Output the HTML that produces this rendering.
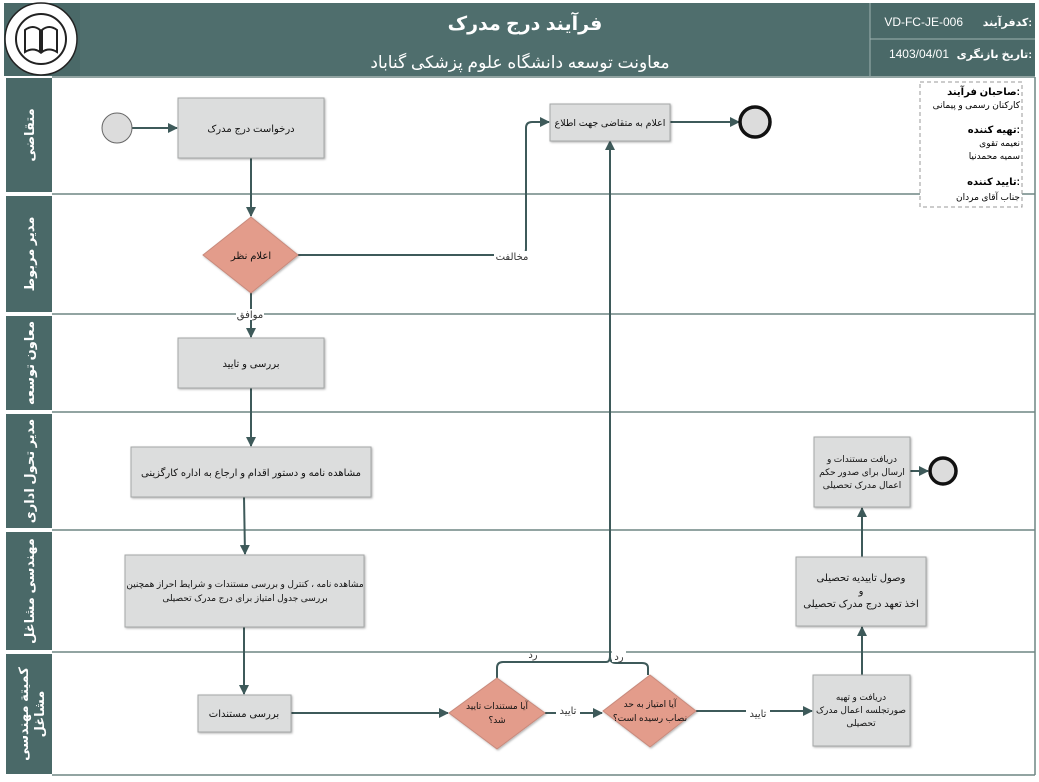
<!DOCTYPE html>
<html><head><meta charset="utf-8"><style>
html,body{margin:0;padding:0;background:#fff;width:1039px;height:782px;overflow:hidden}
svg text{font-family:"Liberation Sans","DejaVu Sans",sans-serif}
</style></head><body>
<svg width="1039" height="782" viewBox="0 0 1039 782" xmlns="http://www.w3.org/2000/svg">
<defs>
<marker id="ar" markerWidth="10" markerHeight="10" refX="9" refY="5" orient="auto" markerUnits="userSpaceOnUse"><path d="M0,0 L10,5 L0,10 Z" fill="#3e5a5a"/></marker>
<filter id="sh"><feDropShadow dx="1" dy="1" stdDeviation="1" flood-opacity="0.3"/></filter>
</defs>
<rect width="1039" height="782" fill="#fff"/>
<rect x="4" y="3" width="1031" height="73" fill="#4a6968"/>
<rect x="80" y="3" width="790" height="73" fill="#4f6e6d"/>
<line x1="870" y1="3" x2="870" y2="76" stroke="#9fb2b1" stroke-width="1"/>
<line x1="870" y1="39" x2="1035" y2="39" stroke="#9fb2b1" stroke-width="1"/>
<circle cx="41" cy="39" r="36" fill="#fff" stroke="#222" stroke-width="1.5"/>
<circle cx="41" cy="39" r="25" fill="#fff" stroke="#222" stroke-width="2"/>
<path d="M25,30 Q33,24 40,30 L40,52 Q33,47 25,52 Z M57,30 Q49,24 42,30 L42,52 Q49,47 57,52 Z" fill="none" stroke="#222" stroke-width="2"/>
<text x="525" y="30" text-anchor="middle" font-size="19" font-weight="bold" fill="#fff">فرآیند درج مدرک</text>
<text x="520" y="68" text-anchor="middle" font-size="17" fill="#fff">معاونت توسعه دانشگاه علوم پزشکی گناباد</text>
<text x="1032" y="26" text-anchor="end" font-size="11" font-weight="bold" fill="#fff">کدفرآیند:</text>
<text x="963" y="26" text-anchor="end" font-size="12" fill="#fff">VD-FC-JE-006</text>
<text x="1032" y="58" text-anchor="end" font-size="11" font-weight="bold" fill="#fff">تاریخ بازنگری:</text>
<text x="949" y="58" text-anchor="end" font-size="12" fill="#fff">1403/04/01</text>
<g fill="#4a6968">
<rect x="6" y="78" width="46" height="114"/>
<rect x="6" y="196" width="46" height="116"/>
<rect x="6" y="316" width="46" height="94"/>
<rect x="6" y="414" width="46" height="114"/>
<rect x="6" y="532" width="46" height="118"/>
<rect x="6" y="654" width="46" height="120"/>
</g>
<g fill="#fff" font-size="13" font-weight="bold" text-anchor="middle">
<text transform="translate(34,135) rotate(-90)">متقاضی</text>
<text transform="translate(34,254) rotate(-90)">مدیر مربوط</text>
<text transform="translate(34,363) rotate(-90)">معاون توسعه</text>
<text transform="translate(34,471) rotate(-90)">مدیر تحول اداری</text>
<text transform="translate(34,591) rotate(-90)">مهندسی مشاغل</text>
<text transform="translate(28,714) rotate(-90)">کمیتة مهندسی</text>
<text transform="translate(44,714) rotate(-90)">مشاغل</text>
</g>
<g stroke="#6f8584" stroke-width="1.5">
<line x1="52" y1="77" x2="1035" y2="77"/>
<line x1="52" y1="194" x2="1035" y2="194"/>
<line x1="52" y1="314" x2="1035" y2="314"/>
<line x1="52" y1="412" x2="1035" y2="412"/>
<line x1="52" y1="530" x2="1035" y2="530"/>
<line x1="52" y1="652" x2="1035" y2="652"/>
<line x1="52" y1="775" x2="1035" y2="775"/>
<line x1="1035" y1="77" x2="1035" y2="775"/>
</g>
<rect x="920" y="82" width="102" height="125" fill="#fff" stroke="#999" stroke-dasharray="4,3"/>
<g text-anchor="end" font-size="9">
<text x="1020" y="95" font-weight="bold" font-size="10">صاحبان فرآیند:</text>
<text x="1020" y="108">کارکنان رسمی و پیمانی</text>
<text x="1020" y="133" font-weight="bold" font-size="10">تهیه کننده:</text>
<text x="1020" y="146">نعیمه تقوی</text>
<text x="1020" y="159">سمیه محمدنیا</text>
<text x="1020" y="185" font-weight="bold" font-size="10">تایید کننده:</text>
<text x="1020" y="200">جناب آقای مردان</text>
</g>
<g stroke="#3e5a5a" stroke-width="2" fill="none">
<line x1="132" y1="128" x2="177" y2="128" marker-end="url(#ar)"/>
<line x1="251" y1="158" x2="251" y2="216" marker-end="url(#ar)"/>
<path d="M298,255 L520,255 Q526,255 526,249 L526,128 Q526,122 532,122 L549,122" marker-end="url(#ar)"/>
<line x1="668" y1="122" x2="739" y2="122" marker-end="url(#ar)"/>
<line x1="251" y1="293" x2="251" y2="337" marker-end="url(#ar)"/>
<line x1="251" y1="388" x2="251" y2="446" marker-end="url(#ar)"/>
<line x1="244" y1="497" x2="245" y2="554" marker-end="url(#ar)"/>
<line x1="244" y1="627" x2="244" y2="694" marker-end="url(#ar)"/>
<line x1="291" y1="713" x2="448" y2="713" marker-end="url(#ar)"/>
<line x1="545" y1="713" x2="602" y2="713" marker-end="url(#ar)"/>
<line x1="696" y1="711" x2="812" y2="711" marker-end="url(#ar)"/>
<path d="M497,678 L497,668 Q497,662 503,662 L606,662 Q610,662 610,656 L610,141" marker-end="url(#ar)"/>
<path d="M648,675 L648,668 Q648,663 642,663 L616,663 Q610,663 610,657"/>
<line x1="862" y1="675" x2="862" y2="627" marker-end="url(#ar)"/>
<line x1="862" y1="557" x2="862" y2="508" marker-end="url(#ar)"/>
<line x1="910" y1="471" x2="928" y2="471" marker-end="url(#ar)"/>
</g>
<g font-size="10" fill="#333" text-anchor="middle">
<rect x="494" y="251" width="36" height="11" fill="#fff"/><text x="512" y="260">مخالفت</text>
<rect x="236" y="309" width="28" height="11" fill="#fff"/><text x="250" y="318">موافق</text>
<rect x="556" y="706" width="24" height="10" fill="#fff"/><text x="568" y="714">تایید</text>
<rect x="746" y="707" width="24" height="10" fill="#fff"/><text x="758" y="717">تایید</text>
<text x="533" y="658">رد</text>
<rect x="612" y="651" width="14" height="11" fill="#fff"/><text x="619" y="660">رد</text>
</g>
<circle cx="117" cy="128" r="15" fill="#dcdcdc" stroke="#666" stroke-width="1"/>
<circle cx="755" cy="122" r="15" fill="#dcdcdc" stroke="#111" stroke-width="3.5"/>
<circle cx="943" cy="471" r="13" fill="#dcdcdc" stroke="#111" stroke-width="3.5"/>
<g fill="#dcdddd" stroke="#a5a8a8" stroke-width="1" filter="url(#sh)">
<rect x="178" y="98" width="146" height="60"/>
<rect x="550" y="104" width="120" height="37"/>
<rect x="178" y="338" width="146" height="50"/>
<rect x="131" y="447" width="240" height="50"/>
<rect x="125" y="555" width="239" height="72"/>
<rect x="198" y="695" width="93" height="37"/>
<rect x="813" y="675" width="97" height="71"/>
<rect x="796" y="557" width="130" height="69"/>
<rect x="814" y="437" width="96" height="70"/>
</g>
<g fill="#e39c8b" stroke="#c88a7c" stroke-width="1" filter="url(#sh)">
<polygon points="251,217 298,255 251,293 203,255"/>
<polygon points="497,678 545,713 497,749 449,713"/>
<polygon points="650,675 696,711 650,747 603,711"/>
</g>
<g font-size="10" fill="#111" text-anchor="middle">
<text x="251" y="132">درخواست درج مدرک</text>
<text x="610" y="126" font-size="9.5">اعلام به متقاضی جهت اطلاع</text>
<text x="251" y="259">اعلام نظر</text>
<text x="251" y="367">بررسی و تایید</text>
<text x="251" y="476">مشاهده نامه و دستور اقدام و ارجاع به اداره کارگزینی</text>
<text x="245" y="587" font-size="9">مشاهده نامه ، کنترل و بررسی مستندات و شرایط احراز همچنین</text>
<text x="245" y="601" font-size="9">بررسی جدول امتیاز برای درج مدرک تحصیلی</text>
<text x="244" y="717">بررسی مستندات</text>
<text x="497" y="709" font-size="9">آیا مستندات تایید</text>
<text x="497" y="723" font-size="9">شد؟</text>
<text x="650" y="707" font-size="9">آیا امتیاز به حد</text>
<text x="650" y="721" font-size="9">نصاب رسیده است؟</text>
<text x="861" y="700" font-size="9">دریافت و تهیه</text>
<text x="861" y="713" font-size="9">صورتجلسه اعمال مدرک</text>
<text x="861" y="726" font-size="9">تحصیلی</text>
<text x="861" y="581">وصول تاییدیه تحصیلی</text>
<text x="861" y="594">و</text>
<text x="861" y="607">اخذ تعهد درج مدرک تحصیلی</text>
<text x="862" y="462" font-size="9">دریافت مستندات و</text>
<text x="862" y="475" font-size="9">ارسال برای صدور حکم</text>
<text x="862" y="488" font-size="9">اعمال مدرک تحصیلی</text>
</g>
</svg>
</body></html>
